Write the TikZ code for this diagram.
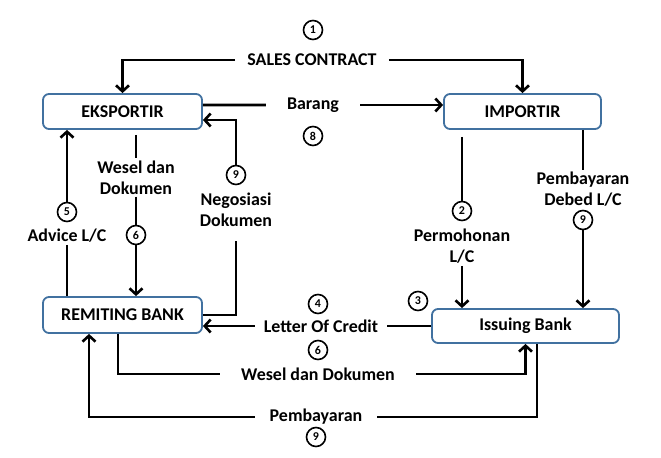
\documentclass[tikz,border=0pt]{standalone}
\usepackage{fontspec}
\setmainfont{Carlito}
\usepackage{tikz}
\usetikzlibrary{arrows.meta,positioning}

\definecolor{boxblue}{RGB}{65,113,160}

\begin{document}
\begin{tikzpicture}[x=1bp, y=-1bp,
    box/.style={rectangle, draw=boxblue, line width=1.8bp, rounded corners=6bp, fill=white, minimum height=35bp, align=center, font=\fontsize{18}{21}\selectfont\bfseries},
    txt/.style={align=center, inner sep=2bp, font=\fontsize{18}{21}\selectfont\bfseries},
    num/.style={circle, draw, line width=1.6bp, minimum size=19bp, inner sep=0pt, font=\fontsize{12}{12}\selectfont\bfseries},
    link/.style={line width=2.6bp},
    arrow/.style={link, -{Straight Barb[length=6bp,width=13bp]}}
]
    \useasboundingbox (0,0) rectangle (661,458);

    % Parties
    \node[box, minimum width=159bp] (eks) at (122.5,111.5) {EKSPORTIR};
    \node[box, minimum width=157bp] (imp) at (522.5,111.5) {IMPORTIR};
    \node[box, minimum width=159bp, minimum height=36bp] (remit) at (122.5,315) {REMITING BANK};
    \node[box, minimum width=187bp, minimum height=34bp] (issue) at (525.5,326) {Issuing Bank};

    % Labels
    \node[txt, inner xsep=12bp] (sales) at (312,60) {SALES CONTRACT};
    \node[txt, inner xsep=21bp] (barang) at (313,105) {Barang};
    \node[txt] (wd) at (136,177.5) {Wesel dan\\Dokumen};
    \node[txt] (nego) at (236,210) {Negosiasi\\Dokumen};
    \node[txt] (advice) at (67,236) {Advice L/C};
    \node[txt] (perm) at (462,246.5) {Permohonan\\L/C};
    \node[txt] (pdeb) at (583,189) {Pembayaran\\Debed L/C};
    \node[txt, inner xsep=9bp] (lc) at (321,326) {Letter Of Credit};
    \node[txt, inner xsep=21bp] (wdb) at (318,374) {Wesel dan Dokumen};
    \node[txt, inner xsep=15bp] (pemb) at (316,417) {Pembayaran};

    % Steps
    \node[num] (c1) at (313,30) {1};
    \node[num] (c2) at (462,211) {2};
    \node[num] (c3) at (418,301) {3};
    \node[num] (c4) at (318,304) {4};
    \node[num] (c5) at (67,212) {5};
    \node[num] (c6a) at (136,235) {6};
    \node[num] (c6b) at (318,350) {6};
    \node[num] (c8) at (313,136) {8};
    \node[num] (c9a) at (236,175) {9};
    \node[num] (c9b) at (583,220) {9};
    \node[num] (c9c) at (316,437) {9};

    % Sales contract and goods
    \draw[arrow] (sales.west) -| (eks.north);
    \draw[arrow] (sales.east) -| (imp.north);
    \draw[link] ([yshift=6.5bp]eks.east) -- (barang.west);
    \draw[arrow] (barang.east) -- (barang.east -| imp.west);

    % Exporter side
    \draw[link] (remit.east) -| ([yshift=-12bp]nego.south);
    \draw[arrow] (c9a.north) |- ([yshift=-8.5bp]eks.east);
    \draw[link, shorten <=5bp] (eks.south -| wd.north) -- (wd.north);
    \draw[link] (wd.south) -- (c6a.north);
    \draw[arrow] (c6a.south) -- (c6a.south |- remit.north);
    \draw[link] (advice.south) -- (advice.south |- remit.north);
    \draw[arrow] (c5.north) -- (c5.north |- eks.south);

    % Importer side
    \draw[link, shorten <=7bp] (imp.south -| c2.north) -- (c2.north);
    \draw[arrow] (perm.south) -- (perm.south |- issue.north);
    \draw[link] (imp.south -| pdeb.north) -- (pdeb.north);
    \draw[arrow] (c9b.south) -- (c9b.south |- issue.north);

    % Between the banks
    \draw[link] (issue.west) -- (lc.east);
    \draw[arrow] (lc.west) -- (lc.west -| remit.east);
    \draw[link] ([xshift=-4.5bp]remit.south) |- (wdb.west);
    \draw[arrow] (wdb.east) -| (issue.south);
    \draw[link] ([xshift=11.5bp]issue.south) |- (pemb.east);
    \draw[arrow] (pemb.west) -| ([xshift=-33.5bp]remit.south);
\end{tikzpicture}
\end{document}
